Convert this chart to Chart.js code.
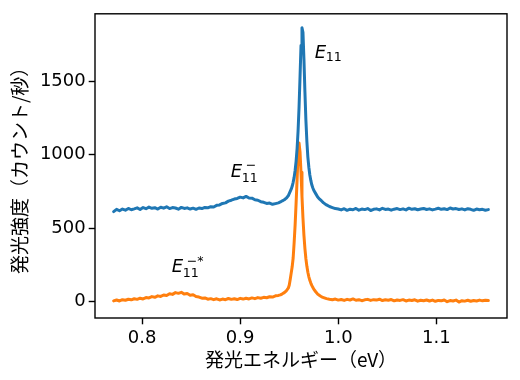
<!DOCTYPE html>
<html>
<head>
<meta charset="utf-8">
<script src="https://cdn.jsdelivr.net/npm/chart.js@4.4.1/dist/chart.umd.min.js"></script>
<style>
  body { margin: 0; background: #fff; }
  canvas { display: block; }
</style>
</head>
<body>
<canvas id="spectrum" width="520" height="380"></canvas>
<script>
// Photon energy (eV) of each sample
const energies = [
    0.771, 0.774, 0.777, 0.780, 0.783, 0.786, 0.789, 0.792, 0.795, 0.798,
    0.801, 0.804, 0.807, 0.810, 0.813, 0.816, 0.819, 0.822, 0.825, 0.828,
    0.831, 0.834, 0.837, 0.840, 0.843, 0.846, 0.849, 0.852, 0.855, 0.858,
    0.861, 0.864, 0.867, 0.870, 0.873, 0.876, 0.879, 0.882, 0.885, 0.888,
    0.891, 0.894, 0.897, 0.900, 0.903, 0.906, 0.909, 0.912, 0.915, 0.918,
    0.921, 0.924, 0.927, 0.930, 0.933, 0.936, 0.939,
    0.941, 0.943, 0.945, 0.947, 0.949,
    0.950, 0.951, 0.952, 0.953, 0.954, 0.955, 0.956, 0.957, 0.958, 0.959,
    0.960, 0.961, 0.962, 0.963, 0.964, 0.965, 0.966, 0.967, 0.968, 0.969,
    0.970, 0.971, 0.972, 0.973, 0.974, 0.975,
    0.977, 0.979, 0.981, 0.983, 0.985, 0.988,
    0.991, 0.994, 0.997, 1.000, 1.003, 1.006, 1.009, 1.012, 1.015, 1.018,
    1.021, 1.024, 1.027, 1.030, 1.033, 1.036, 1.039, 1.042, 1.045, 1.048,
    1.051, 1.054, 1.057, 1.060, 1.063, 1.066, 1.069, 1.072, 1.075, 1.078,
    1.081, 1.084, 1.087, 1.090, 1.093, 1.096, 1.099, 1.102, 1.105, 1.108,
    1.111, 1.114, 1.117, 1.120, 1.123, 1.126, 1.129, 1.132, 1.135, 1.138,
    1.141, 1.144, 1.147, 1.150, 1.153
];

// Upper spectrum (blue), counts per second
const countsUpper = [
    612, 628, 618, 630, 622, 634, 625, 631, 638, 627,
    640, 632, 643, 635, 639, 630, 642, 636, 645, 633,
    640, 637, 629, 641, 634, 638, 630, 636, 628, 637,
    633, 641, 638, 646, 644, 655, 658, 668, 672, 684,
    690, 698, 702, 711, 706, 716, 705, 704, 693, 690,
    680, 676, 668, 671, 662, 667, 672,
    678, 686, 693, 704, 720,
    735, 750, 765, 785, 812, 846, 893, 955, 1040, 1160,
    1322, 1528, 1745, 1866, 1835, 1650, 1428, 1235, 1090, 984,
    915, 862, 825, 795, 775, 758,
    735, 712, 697, 685, 672, 658,
    647, 640, 633, 630, 624, 632, 621, 629, 625, 634,
    622, 630, 626, 633, 620, 628, 631, 624, 635, 627,
    630, 622, 629, 633, 626, 631, 624, 636, 628, 632,
    625, 630, 634, 627, 631, 624, 629, 635, 628, 632,
    626, 637, 630, 633, 627, 631, 624, 632, 628, 621,
    630, 625, 628, 622, 626
];

// Lower spectrum (orange), counts per second
const countsLower = [
    4, 10, 3, 12, 8, 15, 11, 18, 14, 22,
    17, 26, 24, 33, 28, 38, 34, 44, 40, 52,
    48, 60, 55, 62, 50, 54, 42, 45, 33, 30,
    22, 24, 15, 19, 12, 18, 10, 16, 12, 20,
    14, 18, 13, 21, 16, 22, 17, 24, 19, 26,
    22, 28, 25, 32, 30, 38, 41,
    45, 52, 60, 72, 90,
    110, 150, 193, 236, 296, 400, 520, 670, 828, 1005,
    1081, 1020, 880, 716, 569, 450, 360, 291, 239, 199,
    168, 144, 125, 109, 96, 84,
    66, 50, 40, 31, 26, 19,
    15, 12, 16, 9, 13, 7, 14, 10, 17, 8,
    12, 5, 11, 14, 7, 12, 9, 15, 6, 11,
    8, 13, 4, 10, 7, 12, 3, 9, 6, 11,
    2, 8, 5, 10, 3, 9, 1, 7, 4, 10,
    -2, 6, 3, 9, -4, 5, 2, 8, 1, 6,
    3, 9, 4, 8, 6
];

const xTicks = [0.8, 0.9, 1.0, 1.1];
const yTicks = [0, 500, 1000, 1500];

// Peak labels: E_11 with optional superscript, anchored in data units
const peakLabels = [
    { x: 0.976, y: 1657, sup: '', subDrop: 2.7 },
    { x: 0.8903, y: 848, sup: '\u2212', subDrop: 5 },
    { x: 0.8302, y: 199, sup: '\u2212*', subDrop: 5 }
];

const toPoints = (ys) => ys.map((y, i) => ({ x: energies[i], y: y }));

// Closed box around plot area (matplotlib style spines)
const frame = {
    id: 'frame',
    afterDraw(chart) {
        const { ctx, chartArea: a } = chart;
        ctx.save();
        ctx.strokeStyle = '#000';
        ctx.lineWidth = 1.4;
        ctx.strokeRect(a.left, a.top, a.right - a.left, a.bottom - a.top);
        ctx.restore();
    }
};

// Draw E11 labels with sub/superscripts
const peakText = {
    id: 'peakText',
    afterDatasetsDraw(chart) {
        const { ctx, scales } = chart;
        ctx.save();
        ctx.fillStyle = '#000';
        ctx.textBaseline = 'alphabetic';
        ctx.textAlign = 'left';
        peakLabels.forEach(lab => {
            const px = scales.x.getPixelForValue(lab.x);
            const py = scales.y.getPixelForValue(lab.y);
            ctx.font = 'italic 18px "DejaVu Sans"';
            ctx.fillText('E', px, py);
            ctx.font = '12.6px "DejaVu Sans"';
            ctx.fillText('11', px + 11, py + lab.subDrop);
            if (lab.sup) {
                ctx.fillText(lab.sup, px + 15, py - 7.7);
            }
        });
        ctx.restore();
    }
};

const tickFont = { family: '"DejaVu Sans"', size: 18 };
const titleFont = { family: '"Noto Sans CJK JP"', size: 19 };

const lineStyle = {
    borderWidth: 3,
    borderJoinStyle: 'round',
    borderCapStyle: 'round',
    pointRadius: 0,
    tension: 0
};

new Chart(document.getElementById('spectrum'), {
    type: 'line',
    data: {
        datasets: [
            Object.assign({ data: toPoints(countsUpper), borderColor: '#1f77b4' }, lineStyle),
            Object.assign({ data: toPoints(countsLower), borderColor: '#ff7f0e' }, lineStyle)
        ]
    },
    options: {
        responsive: false,
        animation: false,
        devicePixelRatio: 1,
        layout: { padding: { top: 12, right: 13, left: 0, bottom: 0 } },
        plugins: { legend: { display: false }, tooltip: { enabled: false } },
        scales: {
            x: {
                type: 'linear',
                min: 0.752,
                max: 1.172,
                afterBuildTicks: (scale) => { scale.ticks = xTicks.map(v => ({ value: v })); },
                afterFit: (scale) => { scale.height = 62; },
                border: { display: false },
                grid: {
                    drawOnChartArea: false,
                    drawTicks: true,
                    tickLength: 6.3,
                    tickWidth: 1.4,
                    tickColor: '#000'
                },
                ticks: {
                    color: '#000',
                    font: tickFont,
                    padding: 3,
                    maxRotation: 0,
                    callback: (v) => Number(v).toFixed(1)
                },
                title: {
                    display: true,
                    text: '発光エネルギー（eV）',
                    color: '#000',
                    font: titleFont,
                    padding: { top: 0, bottom: 8.6 }
                }
            },
            y: {
                type: 'linear',
                min: -113,
                max: 1961,
                afterBuildTicks: (scale) => { scale.ticks = yTicks.map(v => ({ value: v })); },
                afterFit: (scale) => { scale.width = 95; },
                border: { display: false },
                grid: {
                    drawOnChartArea: false,
                    drawTicks: true,
                    tickLength: 6.3,
                    tickWidth: 1.4,
                    tickColor: '#000'
                },
                ticks: {
                    color: '#000',
                    font: tickFont,
                    padding: 3,
                    callback: (v) => String(v)
                },
                title: {
                    display: true,
                    text: '発光強度（カウント/秒）',
                    color: '#000',
                    font: titleFont,
                    padding: { top: 8.6, bottom: 0 }
                }
            }
        }
    },
    plugins: [frame, peakText]
});
</script>
</body>
</html>
